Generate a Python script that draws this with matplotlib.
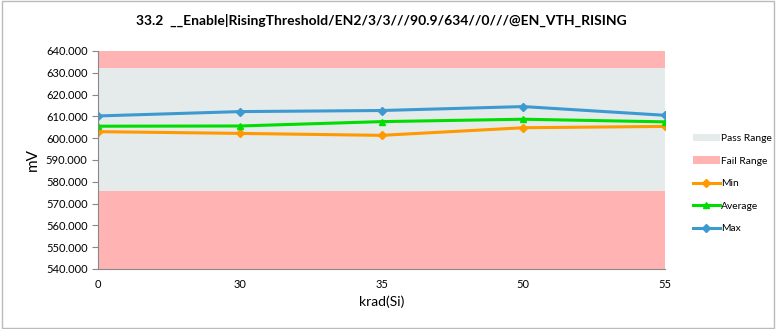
import numpy as np
import matplotlib.pyplot as plt
from matplotlib.patches import Rectangle

plt.rcParams['font.family'] = ['Lato', 'DejaVu Sans']

# chart data
categories = ['0', '30', '35', '50', '55']
min_vals = [603.0, 602.2, 601.3, 604.8, 605.4]
avg_vals = [605.5, 605.6, 607.6, 608.7, 607.5]
max_vals = [610.2, 612.2, 612.7, 614.5, 610.5]
pass_low = 576.0
pass_high = 632.0
y_min = 540.0
y_max = 640.0

x = np.arange(len(categories))

fig = plt.figure(figsize=(7.76, 3.29), dpi=100)
ax = fig.add_axes([0.1263, 0.1824, 0.7307, 0.6626])

# background bands
ax.fill_between(x, pass_high, y_max, color='#FFB3B3', lw=0, label='_fail_top')
ax.fill_between(x, pass_low, pass_high, color='#E5EBEB', lw=0, label='Pass Range')
ax.fill_between(x, y_min, pass_low, color='#FFB3B3', lw=0, label='Fail Range')

ax.plot(x, min_vals, color='#FF9900', lw=2.2, marker='D', ms=4, label='Min')
ax.plot(x, avg_vals, color='#00DD00', lw=2.2, marker='^', ms=5, label='Average')
ax.plot(x, max_vals, color='#3C9AD0', lw=2.2, marker='D', ms=4, label='Max')

ax.set_xlim(0, len(categories) - 1)
ax.set_ylim(y_min, y_max)
ax.set_yticks(np.arange(540, 641, 10))
ax.set_yticklabels([f'{v:.3f}' for v in np.arange(540, 641, 10)], fontsize=8)
ax.set_xticks(x)
ax.set_xticklabels(categories, fontsize=8)
ax.tick_params(axis='x', length=0, pad=7)
ax.tick_params(axis='y', length=4, color='#888888')

for side in ['top', 'right']:
    ax.spines[side].set_visible(False)
ax.spines['left'].set_color('#888888')
ax.spines['bottom'].set_color('#888888')

ax.set_xlabel('krad(Si)', fontsize=10)
ax.set_ylabel('mV', fontsize=11)
ax.set_title('33.2  __Enable|RisingThreshold/EN2/3/3///90.9/634//0///@EN_VTH_RISING',
             fontsize=10, fontweight='bold', pad=19)

handles, labels = ax.get_legend_handles_labels()
keep = [(h, l) for h, l in zip(handles, labels) if not l.startswith('_')]
ax.legend([h for h, l in keep], [l for h, l in keep], loc='center left',
          bbox_to_anchor=(1.04, 0.392), frameon=False, fontsize=7.4,
          handlelength=2.6, labelspacing=1.3, handletextpad=0.15, borderpad=0)

fig.patches.append(Rectangle((0.002, 0.003), 0.996, 0.994, transform=fig.transFigure,
                             fill=False, edgecolor='#BBBBBB', lw=1))

fig.savefig('out.png', dpi=100)
